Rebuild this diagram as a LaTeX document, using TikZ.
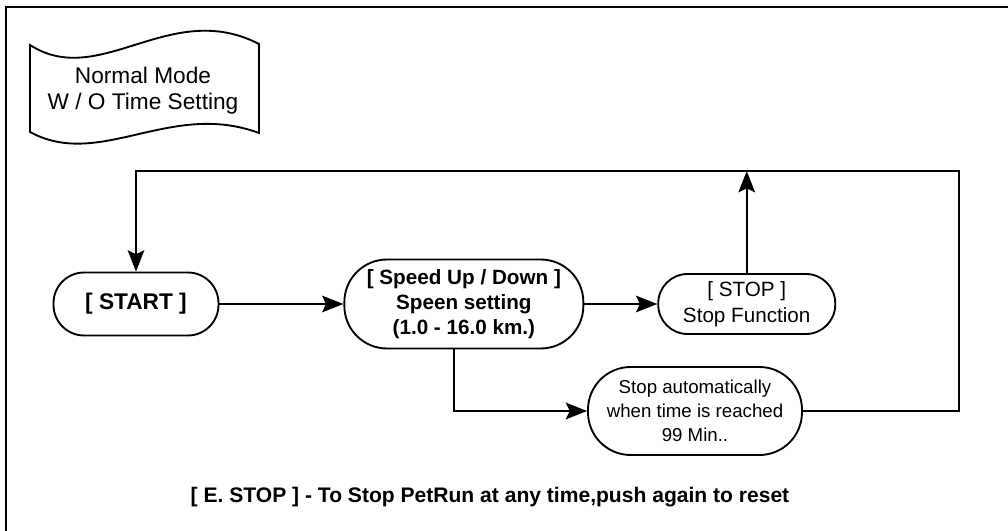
\documentclass[tikz,border=0pt]{standalone}
\usepackage{fontspec}
\setmainfont{Liberation Sans}
\usetikzlibrary{arrows.meta, positioning, calc}

\begin{document}
\begin{tikzpicture}[x=0.75pt, y=-0.75pt, line width=1.4pt, align=center,
  >={Stealth[length=16pt, width=12.5pt, inset=3pt]},
  state/.style={draw, rounded corners=20pt, inner sep=0pt,
    font=\fontsize{15.5pt}{19pt}\selectfont},
  bstate/.style={state, font=\fontsize{15.5pt}{19pt}\selectfont\bfseries}]
  \useasboundingbox (0,0) rectangle (1008,531);
  \draw[line width=1.6pt] (6,531) -- (6,7) -- (1008,7);

  % mode label on a tape
  \node[inner sep=0pt, font=\fontsize{17pt}{19.5pt}\selectfont] (mode) at (143,91) {Normal Mode\\W / O Time Setting};
  \draw (30,45) .. controls (100,90) and (170,-2) .. (259,44) -- (259,133)
    .. controls (170,100) and (100,170) .. (30,132) -- cycle;

  \node[bstate, minimum width=123.75pt, minimum height=47.25pt, rounded corners=23pt,
    font=\fontsize{17pt}{20pt}\selectfont\bfseries] (start) at (136,304) {[ START ]};
  \node[bstate, right=93pt of start, minimum width=179.25pt, minimum height=66.75pt,
    rounded corners=32pt] (speed) {[ Speed Up / Down ]\\Speen setting\\(1.0 - 16.0 km.)};
  \node[state, right=54.75pt of speed, minimum width=132.75pt, minimum height=45pt,
    rounded corners=22pt] (stop) {[ STOP ]\\Stop Function};
  \node[state, minimum width=160.5pt, minimum height=66pt, rounded corners=32pt,
    font=\fontsize{14pt}{18pt}\selectfont] (auto) at (695,411) {Stop automatically\\when time is reached\\99 Min..};
  \node[font=\fontsize{15.8pt}{19pt}\selectfont\bfseries] (estop) at (490,497)
    {[ E. STOP ] - To Stop PetRun at any time,push again to reset};
  \coordinate (loop) at (959,171);

  \draw[->] (start) -- (speed);
  \draw[->] (speed) -- (stop);
  \draw[->] (stop) -- (stop |- loop);
  \draw[->] ([xshift=-7.5pt]speed.south) |- (auto);
  \draw[->] (auto) -| (loop) -| (start);
\end{tikzpicture}
\end{document}
